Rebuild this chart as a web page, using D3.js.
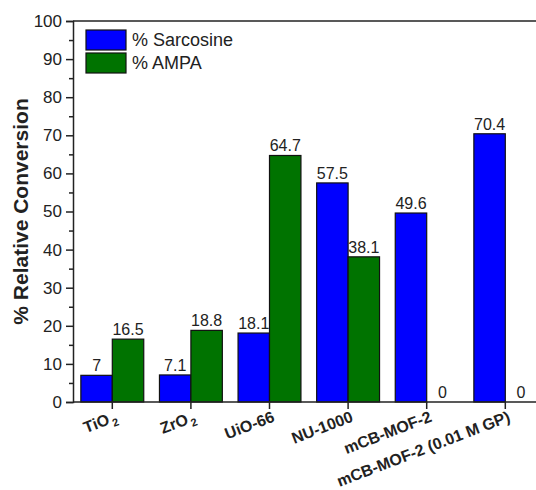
<!DOCTYPE html>
<html>
<head>
<meta charset="utf-8">
<script src="https://cdn.jsdelivr.net/npm/d3@7"></script>
<style>
  body { margin: 0; background: #fff; }
  text { font-family: Arial, "Liberation Sans", sans-serif; }
</style>
</head>
<body>
<div id="chart"></div>
<script>
const categories = ["TiO2", "ZrO2", "UiO-66", "NU-1000", "mCB-MOF-2", "mCB-MOF-2 (0.01 M GP)"];
const sarcosine = [7, 7.1, 18.1, 57.5, 49.6, 70.4];
const ampa = [16.5, 18.8, 64.7, 38.1, 0, 0];
const seriesNames = ["% Sarcosine", "% AMPA"];
const seriesColors = ["#0000ff", "#007300"];
const yTicks = [0, 10, 20, 30, 40, 50, 60, 70, 80, 90, 100];

const W = 536, H = 490;
const plotLeft = 73, plotTop = 21, plotBottom = 402;

const svg = d3.select("#chart").append("svg")
  .attr("width", W).attr("height", H);

const x = d3.scaleBand().domain(categories).range([plotLeft, plotLeft + 6 * 78.6]).paddingInner(0.2).paddingOuter(0.1);
const y = d3.scaleLinear().domain([0, 100]).range([plotBottom, plotTop]);

const series = [sarcosine, ampa];
const half = x.bandwidth() / 2;

// bars
series.forEach((vals, s) => {
  svg.append("g").selectAll("rect")
    .data(vals)
    .join("rect")
    .attr("x", (d, i) => x(categories[i]) + s * half)
    .attr("y", d => y(d))
    .attr("width", half)
    .attr("height", d => plotBottom - y(d))
    .attr("fill", seriesColors[s])
    .attr("stroke", "#111")
    .attr("stroke-width", 1.2);

  svg.append("g").selectAll("text")
    .data(vals)
    .join("text")
    .attr("x", (d, i) => x(categories[i]) + s * half + half / 2)
    .attr("y", d => y(d) - 4)
    .attr("text-anchor", "middle")
    .attr("font-size", 16)
    .attr("fill", "#222")
    .text(d => d);
});

// frame top line
svg.append("line")
  .attr("x1", plotLeft).attr("x2", W).attr("y1", plotTop).attr("y2", plotTop)
  .attr("stroke", "#222").attr("stroke-width", 1.5);

// y axis
const yAxis = svg.append("g")
  .attr("transform", `translate(${plotLeft},0)`)
  .call(d3.axisLeft(y).tickValues(yTicks).tickSize(7).tickPadding(4));
yAxis.select(".domain").attr("stroke", "#222").attr("stroke-width", 1.5);
yAxis.selectAll(".tick line").attr("stroke", "#222").attr("stroke-width", 1.5);
yAxis.selectAll(".tick text").attr("font-size", 17).attr("fill", "#222").attr("font-family", "Arial, 'Liberation Sans', sans-serif");

svg.append("g")
  .attr("transform", `translate(${plotLeft},0)`)
  .call(d3.axisLeft(y).tickValues(d3.range(5, 100, 10)).tickSize(4).tickFormat(""))
  .call(g => g.select(".domain").remove())
  .selectAll(".tick line").attr("stroke", "#222").attr("stroke-width", 1.5);

// x axis
const xAxis = svg.append("g")
  .attr("transform", `translate(0,${plotBottom})`)
  .call(d3.axisBottom(x).tickSize(7).tickFormat(""));
xAxis.select(".domain").attr("d", `M${plotLeft},0H${W}`).attr("stroke", "#222").attr("stroke-width", 1.5);
xAxis.selectAll(".tick line").attr("stroke", "#222").attr("stroke-width", 1.5);

// x labels, rotated
categories.forEach((c, i) => {
  const cx = x(c) + x.bandwidth() / 2;
  const t = svg.append("text")
    .attr("transform", `translate(${cx + 6},${plotBottom + 19}) rotate(-21)`)
    .attr("text-anchor", "end")
    .attr("font-size", 16)
    .attr("font-weight", "bold")
    .attr("fill", "#222");
  if (c === "TiO2" || c === "ZrO2") {
    t.append("tspan").text(c.slice(0, -1));
    t.append("tspan").attr("dx", 2).attr("dy", 4).attr("font-size", 11).text("2");
  } else {
    t.text(c);
  }
});

// y title
svg.append("text")
  .attr("transform", `translate(28,${(plotTop + plotBottom) / 2}) rotate(-90)`)
  .attr("text-anchor", "middle")
  .attr("font-size", 21)
  .attr("font-weight", "bold")
  .attr("fill", "#222")
  .text("% Relative Conversion");

// legend
const legend = svg.append("g").attr("transform", "translate(86,30)");
seriesNames.forEach((n, i) => {
  legend.append("rect")
    .attr("x", 0).attr("y", i * 23)
    .attr("width", 40).attr("height", 20)
    .attr("fill", seriesColors[i])
    .attr("stroke", "#111").attr("stroke-width", 1.2);
  legend.append("text")
    .attr("x", 46).attr("y", i * 23 + 16)
    .attr("font-size", 18)
    .attr("fill", "#222")
    .text(n);
});
</script>
</body>
</html>
